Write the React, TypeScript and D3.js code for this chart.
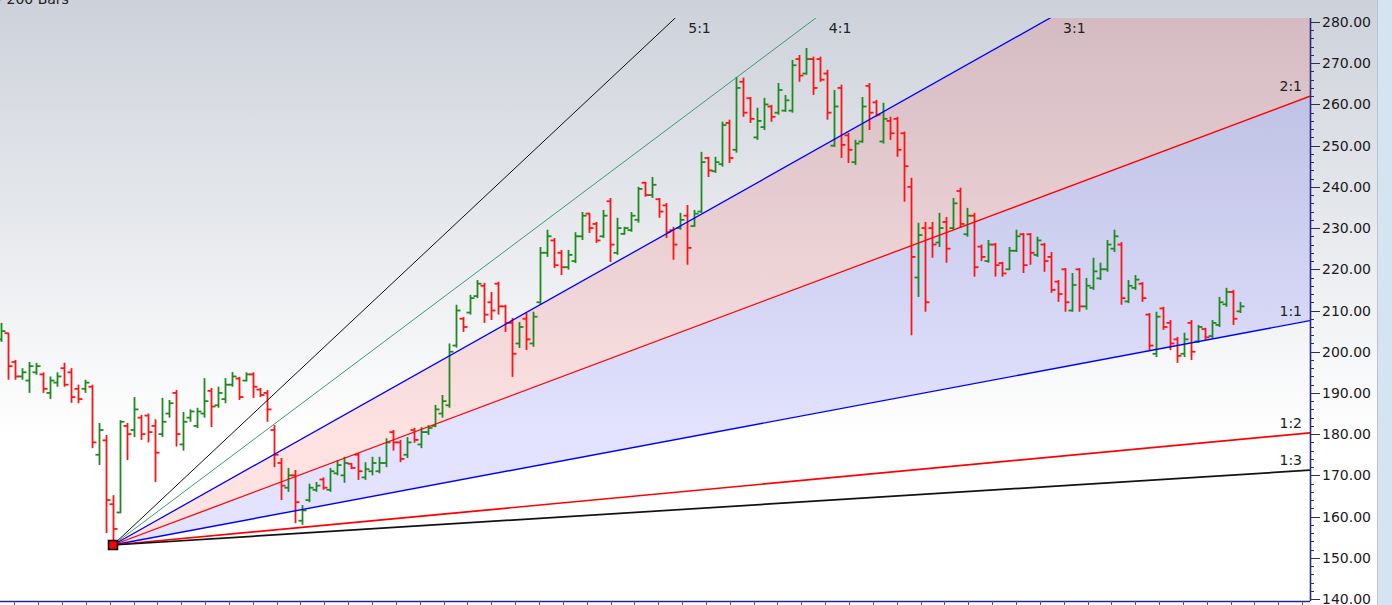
import * as d3 from 'd3';

// OHLC bars, one per trading session
const opens = [
  203, 204.5, 197.5, 194, 193, 195, 194.5, 190, 192.5, 196,
  195, 191, 191, 191.5, 175, 178.5, 163, 161, 182, 181,
  184, 184.5, 182, 180, 185, 190, 177.5, 184, 182, 185,
  190.5, 187, 188.5, 192, 193.5, 193, 194.5, 190.8, 190, 181,
  173, 167, 170, 159, 164, 166.5, 169, 166.5, 170.5, 170,
  172.8, 175, 169.5, 171, 171, 173, 180.5, 178, 175, 181,
  177.5, 180.5, 182, 185, 187, 201.5, 208, 209.5, 213.5, 216,
  212, 216.5, 211, 207, 202, 208, 202, 212, 224, 227,
  224, 220.5, 222, 228, 233.5, 231, 228, 236.5, 224, 228.6,
  229.5, 232, 241, 238, 237, 235.5, 229.5, 230, 233, 230.5,
  234, 247, 243.8, 245.5, 255.5, 249, 265.5, 261.5, 252, 254.5,
  259.5, 258, 258.5, 258.5, 271, 267.5, 271, 271, 267.5, 250,
  264, 252.5, 246, 251, 264.5, 260.5, 251, 256, 256.5, 253,
  240, 218, 230, 230, 226.5, 231.5, 230, 239, 228.5, 233,
  225.5, 222, 226, 221.5, 220, 224.5, 228.5, 228.5, 223.5, 226,
  223, 217, 220, 210, 220, 211, 215.5, 217.8, 220, 225,
  226, 212.2, 215.5, 216.5, 209, 199.5, 210.5, 207, 203, 199.5,
  207, 202.5, 205.5, 203.8, 206.5, 211.5, 214.5, 209.8,
];
const highs = [
  207, 204.6, 198, 196, 197.5, 197.3, 195, 194, 195, 197.3,
  196, 192, 193.2, 192, 182.7, 179.8, 165.2, 183.4, 182.7, 189,
  184.7, 185, 183.6, 188.8, 188.3, 190.7, 185.4, 186, 186.4, 193.6,
  191.2, 191.5, 193.6, 195.1, 193.9, 195, 195, 191.2, 190.7, 182.2,
  174.2, 171.8, 171.3, 162.8, 168, 168.4, 169.5, 171.8, 173.7, 174.5,
  173, 175.4, 173.2, 174.5, 174.5, 179, 181, 178.6, 179.3, 181.5,
  181.7, 182.2, 187.1, 189.5, 202, 211.4, 208.4, 213.8, 217.4, 216.7,
  214.5, 217, 211.4, 208.2, 207.2, 209.4, 209.7, 225.4, 229.6, 227.6,
  224.7, 224.7, 229, 233.9, 233.7, 231.5, 234.4, 237.3, 232.5, 230.3,
  233.9, 240, 241.2, 242.4, 237.3, 236.1, 230.3, 233.7, 235.6, 234.4,
  248.5, 247.3, 247.3, 255.8, 256.3, 266.7, 266.5, 261.8, 259.2, 261.6,
  259.9, 265.2, 262.3, 270.8, 272, 273.7, 271.6, 271.6, 268.4, 263.5,
  264.8, 253.1, 251.4, 261.8, 265.2, 261.1, 260.4, 257, 257, 253.4,
  242.2, 231.3, 231.5, 231.5, 233.7, 232.7, 237.3, 239.8, 234.9, 233.7,
  226, 227.1, 226.4, 221.8, 225.4, 229.6, 228.8, 228.8, 227.9, 226.4,
  224.2, 217.4, 220.3, 219.1, 220.3, 217.9, 222.8, 221.6, 227.1, 229.6,
  226.6, 217.4, 218.6, 216.9, 209.4, 209.7, 210.9, 207.7, 203.6, 204.6,
  207.7, 206.5, 205.8, 207.7, 213.3, 215.5, 215, 212.1,
];
const lows = [
  202.4, 193.2, 193.2, 193.2, 190, 194.4, 190, 188.5, 191.5, 191.5,
  187.6, 187.5, 190, 176.6, 172.5, 156, 153.1, 160.8, 173.7, 179.3,
  178.6, 178, 168.4, 179.3, 184, 177, 176, 183, 181.5, 184,
  181.7, 186.4, 187.5, 191.5, 188.3, 192.8, 188.8, 189, 183, 172,
  164, 166, 158.4, 158, 163.5, 166, 166.5, 166, 170, 168.2,
  171.5, 168.9, 168.9, 170, 170.5, 172, 176, 173.2, 174.2, 177.9,
  176.6, 179.8, 181.7, 184, 186.4, 201, 204.8, 209, 213, 207,
  207.7, 209, 204.8, 193.9, 200.9, 200.4, 201.2, 211.4, 223, 220.3,
  218.6, 219.9, 221.5, 227.1, 228.8, 226.4, 227.6, 221.8, 223.5, 228.4,
  229.1, 231.3, 237.6, 237.3, 232.5, 227.6, 222.3, 229.6, 221.1, 230.3,
  233.7, 242.4, 243.4, 244.9, 245.8, 248.3, 257, 255.5, 251.4, 253.8,
  255.8, 257.5, 258.2, 258, 265.5, 267.2, 262.3, 265.5, 256.3, 249.7,
  247, 245.8, 245.3, 250.7, 253.8, 257, 250.5, 251.4, 247.3, 236.4,
  204, 213.3, 209.7, 222.8, 225.4, 221.6, 229.6, 230.1, 227.9, 218.2,
  222, 221.6, 218.2, 218.2, 219.8, 224.2, 219.1, 221.1, 223, 219.4,
  214.3, 212.1, 209.7, 209.7, 209.7, 210.2, 215, 217.4, 219.4, 224.2,
  211.4, 211.8, 215, 212.1, 200.4, 198.7, 205.3, 200.4, 197.3, 198.7,
  198, 202.1, 202.9, 203.3, 206, 210.9, 206.5, 209.4,
];
const closes = [
  205, 196.5, 194, 195, 196.5, 196.5, 191, 193, 194, 192,
  189, 188.5, 192.5, 178, 181, 164, 157, 183, 180, 186,
  180, 180.5, 175.5, 183, 187.5, 180, 183, 185.5, 185.5, 188,
  186.7, 190, 192, 194, 189, 194.5, 191.5, 189.5, 186, 175,
  167.5, 170, 163.5, 161.5, 167, 167.5, 167, 171, 172.5, 173,
  171.8, 171, 171.5, 173, 173, 178, 178, 174, 178, 178.6,
  180.5, 181.5, 186, 188, 200, 210, 206, 213, 216.5, 209,
  210, 211, 207, 199.5, 206, 203, 208.5, 224, 228, 221,
  220.5, 223.5, 228, 233, 230, 227, 233, 226, 230, 230,
  233, 239.5, 238, 240.5, 234, 229, 226, 232, 225.2, 233.5,
  246, 244, 246, 255, 247, 264, 258, 256.5, 256, 260,
  257, 263.5, 261, 269.5, 267, 271, 264, 266, 258, 259.5,
  250.2, 249, 250.5, 259.5, 258, 257.5, 256.5, 253, 249, 245,
  223, 228.3, 212, 226, 230, 225, 236, 231, 233, 220.5,
  223, 226, 221, 219, 224.5, 228, 221, 224, 227, 222,
  215, 214, 212, 216.2, 211, 216, 219.5, 220, 226, 228,
  213, 216, 217.5, 213, 201.5, 208.5, 206, 202, 199, 203,
  200, 206, 203.5, 207, 212, 214.5, 208, 211,
];

// Gann fan anchored on the swing low
const pivotIndex = 16;
const pivotPrice = 153.1;
const fanUnit = 0.3184; // price per bar for the 1:1 line
const fanRatios = [5, 4, 3, 2, 1, 1 / 2, 1 / 3];
const fanLabels = ['5:1', '4:1', '3:1', '2:1', '1:1', '1:2', '1:3'];
const fanColors = ['#111111', '#3d9c6c', '#0000ff', '#ff0000', '#0000ff', '#ff0000', '#111111'];
const fanWidths = [1, 1, 1.3, 1.3, 1.4, 1.7, 1.7];

const priceTicks = d3.range(140, 281, 2);

const W = 1392;
const H = 605;
const plotRight = 1310;
const plotTop = 18;
const plotBottom = 601;

const x = d3.scaleLinear().domain([0, opens.length - 1]).range([1, 1240]);
const y = d3.scaleLinear().domain([140, 280]).range([599, 22]);

const FONT = '"DejaVu Sans", Verdana, sans-serif';

export default function App() {
  const endIdx = x.invert(plotRight);
  const topPrice = y.invert(plotTop);
  const fanPrice = (r: number, i: number) => pivotPrice + r * fanUnit * (i - pivotIndex);
  const line = d3.line<[number, number]>().x(d => x(d[0])).y(d => y(d[1]));

  const area = (r1: number, r2: number) =>
    line([[pivotIndex, pivotPrice], [endIdx, fanPrice(r1, endIdx)], [endIdx, fanPrice(r2, endIdx)]]) + 'Z';

  const xTicks = d3.range(1.9, 190, 3.407).filter(i => x(i) <= plotRight);

  return (
    <div style={{ position: 'fixed', left: 0, top: 0 }}>
      <svg width={W} height={H} style={{ display: 'block' }}>
        <defs>
          <linearGradient id="bg" x1="0" y1="0" x2="0" y2="1">
            <stop offset="0" stopColor="#cdd1da" />
            <stop offset="0.45" stopColor="#eceef1" />
            <stop offset="0.72" stopColor="#ffffff" />
            <stop offset="1" stopColor="#ffffff" />
          </linearGradient>
          <clipPath id="plot">
            <rect x={0} y={plotTop} width={plotRight} height={plotBottom - plotTop} />
          </clipPath>
        </defs>
        <rect x={0} y={0} width={W} height={H} fill="url(#bg)" />
        <rect x={1377} y={0} width={15} height={H} fill="#d6e3f0" />
        <line x1={1377.5} x2={1377.5} y1={0} y2={H} stroke="#b9c4d2" />

        <text x={-3} y={4} fontFamily={FONT} fontSize={14} fill="#222">- 200 Bars</text>

        <g clipPath="url(#plot)">
          <path d={area(3, 2)} fill="rgba(255,0,0,0.11)" />
          <path d={area(2, 1)} fill="rgba(0,0,255,0.11)" />

          {opens.map((o, i) => {
            const c = closes[i];
            const col = c >= o ? '#1f8a1f' : '#ff1414';
            const cx = Math.round(x(i)) + 0.5;
            return (
              <g key={i} stroke={col} strokeWidth={1.8}>
                <line x1={cx} x2={cx} y1={y(highs[i])} y2={y(lows[i])} />
                <line x1={cx - 4} x2={cx} y1={y(o)} y2={y(o)} />
                <line x1={cx} x2={cx + 4} y1={y(c)} y2={y(c)} />
              </g>
            );
          })}

          {fanRatios.map((r, k) => (
            <path
              key={k}
              d={line([[pivotIndex, pivotPrice], [endIdx, fanPrice(r, endIdx)]]) ?? ''}
              stroke={fanColors[k]}
              strokeWidth={fanWidths[k]}
              fill="none"
            />
          ))}
        </g>

        {fanRatios.map((r, k) => {
          const pEnd = fanPrice(r, endIdx);
          if (pEnd > topPrice) {
            const iTop = pivotIndex + (topPrice - pivotPrice) / (r * fanUnit);
            return (
              <text key={k} x={x(iTop) + 13} y={33} fontFamily={FONT} fontSize={14} fill="#222">
                {fanLabels[k]}
              </text>
            );
          }
          return (
            <text key={k} x={1302} y={y(pEnd) - 5} textAnchor="end" fontFamily={FONT} fontSize={14} fill="#222">
              {fanLabels[k]}
            </text>
          );
        })}

        <rect
          x={x(pivotIndex) - 4.5}
          y={y(pivotPrice) - 4.5}
          width={9}
          height={9}
          fill="#ff0000"
          stroke="#000"
          strokeWidth={1.5}
        />

        {/* right price axis */}
        <line x1={plotRight + 0.5} x2={plotRight + 0.5} y1={plotTop} y2={plotBottom} stroke="#25258f" strokeWidth={1.6} />
        {priceTicks.map(p => {
          const major = p % 10 === 0;
          return (
            <g key={p}>
              <line
                x1={plotRight}
                x2={plotRight + (major ? 10 : 4)}
                y1={Math.round(y(p)) + 0.5}
                y2={Math.round(y(p)) + 0.5}
                stroke="#333"
              />
              {major && (
                <text x={plotRight + 12} y={y(p) + 5} fontFamily={FONT} fontSize={14} fill="#1a1a1a">
                  {d3.format('.2f')(p)}
                </text>
              )}
            </g>
          );
        })}

        {/* bottom bar axis */}
        <line x1={0} x2={plotRight} y1={plotBottom + 0.5} y2={plotBottom + 0.5} stroke="#25258f" strokeWidth={1.6} />
        {xTicks.map((t, k) => (
          <line key={k} x1={Math.round(x(t)) + 0.5} x2={Math.round(x(t)) + 0.5} y1={plotBottom} y2={plotBottom + 5} stroke="#555" />
        ))}
      </svg>
    </div>
  );
}
